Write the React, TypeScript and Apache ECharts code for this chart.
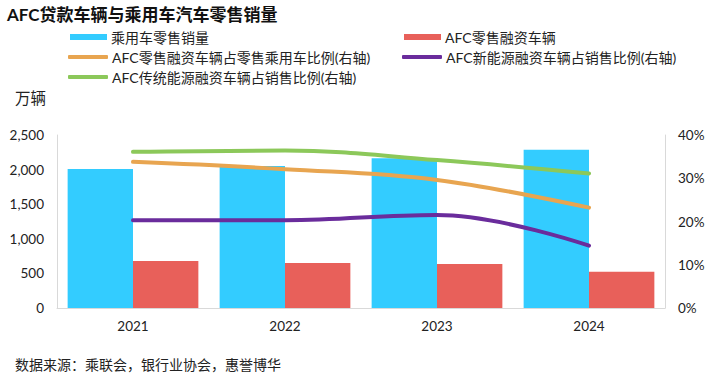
import React, { useEffect, useRef } from "react";
import * as echarts from "echarts";

const categories = ["2021", "2022", "2023", "2024"];
const retailSales = [2010, 2052, 2163, 2288];
const afcRetail = [679, 650, 636, 525];
const afcShareOfRetail = [33.8, 32.1, 29.6, 23.2];
const afcNevShare = [20.3, 20.3, 21.5, 14.4];
const afcIceShare = [36.1, 36.4, 34.2, 31.1];

const names = [
  "乘用车零售销量",
  "AFC零售融资车辆",
  "AFC零售融资车辆占零售乘用车比例(右轴)",
  "AFC新能源融资车辆占销售比例(右轴)",
  "AFC传统能源融资车辆占销售比例(右轴)",
];

const FONT = "Lato, 'Noto Sans CJK SC', sans-serif";

export default function App() {
  const ref = useRef<HTMLDivElement>(null);
  useEffect(() => {
    if (!ref.current) return;
    const chart = echarts.init(ref.current, undefined, { renderer: "svg" });
    const legendBase = {
      orient: "horizontal",
      padding: 0,
      itemGap: 4,
      textStyle: { fontSize: 14, color: "#222", fontFamily: FONT, padding: [0, 0, 0, -1] },
      selectedMode: false,
    };
    const barIcon = { icon: "rect", itemWidth: 37, itemHeight: 6 };
    const lineIcon = { icon: "roundRect", itemWidth: 40, itemHeight: 4 };
    chart.setOption({
      animation: false,
      backgroundColor: "#fff",
      textStyle: { fontFamily: FONT },
      title: {
        text: "AFC贷款车辆与乘用车汽车零售销量",
        left: 7,
        top: 6,
        padding: 0,
        textStyle: { fontSize: 17, fontWeight: "bold", color: "#111", fontFamily: FONT },
      },
      legend: [
        { ...legendBase, ...barIcon, data: [names[0]], left: 70, top: 30 },
        { ...legendBase, ...barIcon, data: [names[1]], left: 404, top: 30 },
        { ...legendBase, ...lineIcon, data: [names[2]], left: 68, top: 50 },
        { ...legendBase, ...lineIcon, data: [names[3]], left: 402, top: 50 },
        { ...legendBase, ...lineIcon, data: [names[4]], left: 68, top: 70 },
      ],
      graphic: [
        {
          type: "text",
          left: 15,
          top: 90,
          style: { text: "万辆", fontSize: 15.5, fill: "#222", fontFamily: FONT },
        },
        {
          type: "text",
          left: 15,
          top: 357,
          style: { text: "数据来源：乘联会，银行业协会，惠誉博华", fontSize: 14, fill: "#222", fontFamily: FONT },
        },
      ],
      grid: { left: 57, right: 55, top: 135, bottom: 80 },
      xAxis: {
        type: "category",
        data: categories,
        axisLine: { lineStyle: { color: "#d9d9d9" } },
        axisTick: { show: false },
        axisLabel: { fontSize: 13.5, color: "#222", margin: 11, fontFamily: FONT },
      },
      yAxis: [
        {
          type: "value",
          min: 0,
          max: 2500,
          interval: 500,
          axisLine: { show: true, lineStyle: { color: "#d9d9d9" } },
          axisTick: { show: false },
          splitLine: { show: false },
          axisLabel: {
            fontSize: 13.5,
            color: "#222",
            margin: 13,
            fontFamily: FONT,
            formatter: (v: number) => v.toLocaleString("en-US"),
          },
        },
        {
          type: "value",
          min: 0,
          max: 40,
          interval: 10,
          position: "right",
          axisLine: { show: true, lineStyle: { color: "#d9d9d9" } },
          axisTick: { show: false },
          splitLine: { show: false },
          axisLabel: { fontSize: 13.5, color: "#222", margin: 13, fontFamily: FONT, formatter: "{value}%" },
        },
      ],
      series: [
        {
          name: names[0],
          type: "bar",
          data: retailSales,
          barGap: "0%",
          barCategoryGap: "14%",
          itemStyle: { color: "#33CCFF" },
        },
        {
          name: names[1],
          type: "bar",
          data: afcRetail,
          itemStyle: { color: "#E8605A" },
        },
        {
          name: names[2],
          type: "line",
          yAxisIndex: 1,
          data: afcShareOfRetail,
          smooth: 0.4,
          showSymbol: false,
          lineStyle: { color: "#E8A550", width: 4, cap: "round" },
          itemStyle: { color: "#E8A550" },
        },
        {
          name: names[3],
          type: "line",
          yAxisIndex: 1,
          data: afcNevShare,
          smooth: 0.4,
          showSymbol: false,
          lineStyle: { color: "#6A2C9C", width: 4, cap: "round" },
          itemStyle: { color: "#6A2C9C" },
        },
        {
          name: names[4],
          type: "line",
          yAxisIndex: 1,
          data: afcIceShare,
          smooth: 0.4,
          showSymbol: false,
          lineStyle: { color: "#8CC85A", width: 4, cap: "round" },
          itemStyle: { color: "#8CC85A" },
        },
      ],
    });
    return () => chart.dispose();
  }, []);
  return <div ref={ref} style={{ width: 720, height: 388, position: "absolute", left: 0, top: 0 }} />;
}
